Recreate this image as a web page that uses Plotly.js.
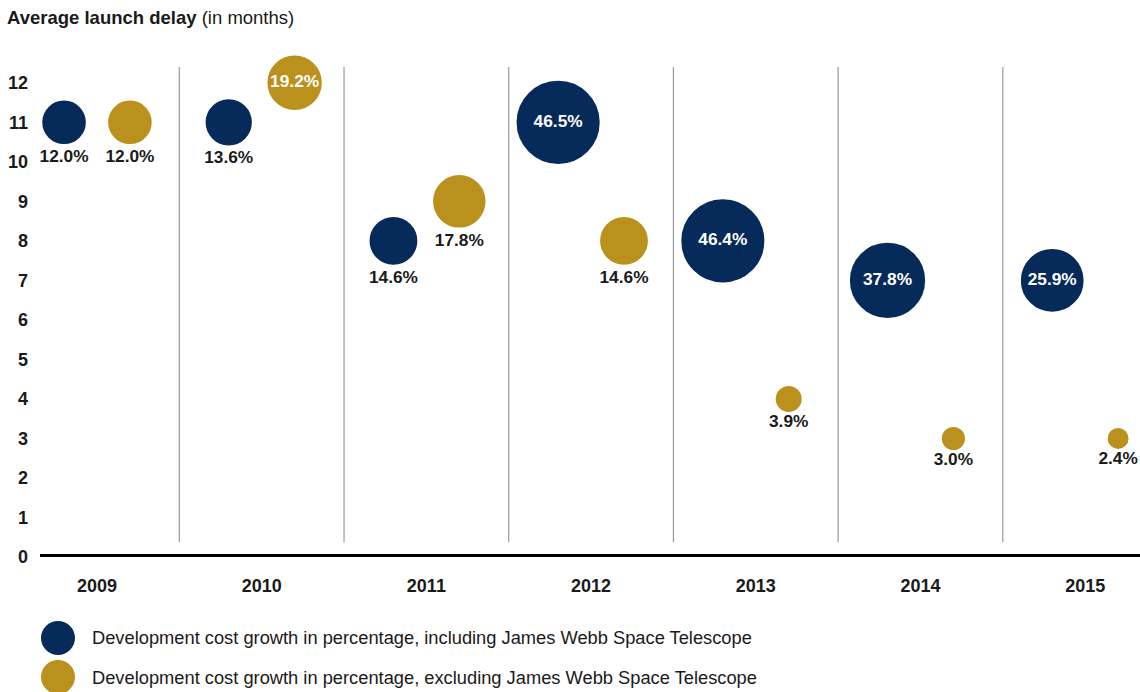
<!DOCTYPE html>
<html>
<head>
<meta charset="utf-8">
<script src="https://cdn.plot.ly/plotly-3.0.1.min.js"></script>
<style>html,body{margin:0;padding:0;background:#fff;}#chart{width:1140px;height:692px;}</style>
</head>
<body>
<div id="chart"></div>
<script>
const years = ['2009','2010','2011','2012','2013','2014','2015'];
const delayIncl = [11, 11, 8, 11, 8, 7, 7];
const costIncl = [12.0, 13.6, 14.6, 46.5, 46.4, 37.8, 25.9];
const delayExcl = [11, 12, 9, 8, 4, 3, 3];
const costExcl = [12.0, 19.2, 17.8, 14.6, 3.9, 3.0, 2.4];
const nameIncl = 'Development cost growth in percentage, including James Webb Space Telescope';
const nameExcl = 'Development cost growth in percentage, excluding James Webb Space Telescope';

const NAVY = '#062a5a';
const GOLD = '#bb911d';
const FONT = 'Liberation Sans, Arial, sans-serif';
const INSIDE_MIN = 19;

function mkTrace(name, y, sizes, color) {
  return {
    type: 'scatter', mode: 'markers+text', name: name,
    x: years, y: y,
    text: sizes.map(v => v.toFixed(1) + '%'),
    textposition: sizes.map(v => v >= INSIDE_MIN ? 'middle center' : 'bottom center'),
    textfont: {family: FONT, size: 17.3, weight: 'bold', color: sizes.map(v => v >= INSIDE_MIN ? '#ffffff' : '#1a1a1a')},
    marker: {size: sizes, sizemode: 'area', sizeref: 0.014364, color: color, opacity: 1,
             line: {color: color, width: 2.7}},
    cliponaxis: false,
    hoverinfo: 'skip'
  };
}

const traces = [
  mkTrace(nameIncl, delayIncl, costIncl, NAVY),
  mkTrace(nameExcl, delayExcl, costExcl, GOLD)
];

const shapes = [];
for (let i = 0; i < years.length - 1; i++) {
  shapes.push({type: 'line', xref: 'x', yref: 'paper', x0: i + 0.5, x1: i + 0.5, y0: 0.03, y1: 1,
               line: {color: '#9a9a9a', width: 1.2}, layer: 'below'});
}
shapes.push({type: 'line', xref: 'paper', yref: 'y', x0: 0, x1: 1, y0: 0, y1: 0,
             line: {color: '#000', width: 6}, layer: 'above'});
// legend circles
const legendItems = [[nameIncl, NAVY, -0.1653], [nameExcl, GOLD, -0.2449]];
const annotations = [];
legendItems.forEach(([name, color, yp]) => {
  shapes.push({type: 'circle', xref: 'paper', yref: 'paper', xsizemode: 'pixel', ysizemode: 'pixel',
               xanchor: 0.01636, yanchor: yp, x0: -17, x1: 17, y0: -17, y1: 17,
               fillcolor: color, line: {color: color, width: 0}});
  annotations.push({xref: 'paper', yref: 'paper', x: 0.0455, y: yp, xanchor: 'left', yanchor: 'middle',
                    text: name, showarrow: false, font: {family: FONT, size: 18.3, color: '#1a1a1a'}});
});

const layout = {
  width: 1140, height: 692,
  margin: {l: 40, r: 0, t: 67, b: 135},
  paper_bgcolor: '#fff', plot_bgcolor: '#fff',
  showlegend: false,
  scattermode: 'group', scattergap: 0.2,
  font: {family: FONT, color: '#1a1a1a'},
  title: {text: '<b>Average launch delay</b> (in months)', xref: 'container', yref: 'container',
          x: 7 / 1140, xanchor: 'left', y: 1 - 18 / 692, yanchor: 'middle',
          font: {family: FONT, size: 18.5, color: '#1a1a1a'}},
  xaxis: {type: 'category', range: [-0.346, 6.333], showgrid: false, zeroline: false, showline: false,
          ticks: '', ticklabelstandoff: 16,
          tickfont: {family: FONT, size: 18, weight: 'bold', color: '#1a1a1a'}, fixedrange: true},
  yaxis: {range: [0, 12.4], tickvals: [0,1,2,3,4,5,6,7,8,9,10,11,12], showgrid: false, zeroline: false,
          showline: false, ticks: '', ticklabelstandoff: 11,
          tickfont: {family: FONT, size: 18, weight: 'bold', color: '#1a1a1a'}, fixedrange: true},
  shapes: shapes,
  annotations: annotations
};

Plotly.newPlot('chart', traces, layout, {displayModeBar: false, staticPlot: true});
</script>
</body>
</html>
